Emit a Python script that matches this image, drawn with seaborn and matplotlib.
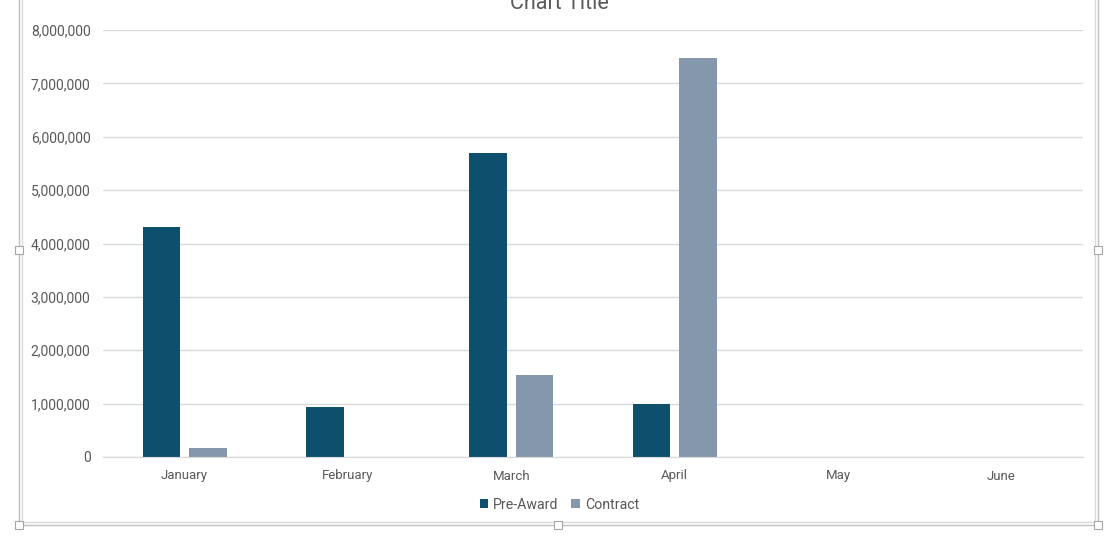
import numpy as np
import pandas as pd
import matplotlib
matplotlib.use("Agg")
import matplotlib.pyplot as plt
from matplotlib.patches import Rectangle
from matplotlib.ticker import FuncFormatter
import seaborn as sns

months = ["January", "February", "March", "April", "May", "June"]
pre_award = [4310000, 940000, 5700000, 990000, np.nan, np.nan]
contract = [170000, np.nan, 1540000, 7480000, np.nan, np.nan]
series_names = ["Pre-Award", "Contract"]
series_colors = ["#0E4F6E", "#8497AB"]
title = "Chart Title"

df = pd.DataFrame({
    "month": months * 2,
    "series": [series_names[0]] * 6 + [series_names[1]] * 6,
    "value": pre_award + contract,
})

sns.set_style("white")
plt.rcParams["font.family"] = ["Roboto", "DejaVu Sans"]
text_color = "#595959"

fig = plt.figure(figsize=(11.19, 5.42), dpi=100)
ax = fig.add_axes([103 / 1119, 1 - 457 / 542, 980 / 1119, 427 / 542])

sns.barplot(data=df, x="month", y="value", hue="series", order=months,
            hue_order=series_names, palette=series_colors, width=0.57,
            gap=0.19, ax=ax, errorbar=None, saturation=1, linewidth=0)

ax.set_ylim(0, 8000000)
ax.set_xlim(-0.5, 5.5)
ax.set_yticks(range(0, 8000001, 1000000))
ax.yaxis.set_major_formatter(FuncFormatter(lambda v, p: f"{int(v):,}"))
ax.grid(axis="y", color="#D9D9D9", linewidth=1)
ax.set_axisbelow(True)
for s in ["top", "right", "left"]:
    ax.spines[s].set_visible(False)
ax.spines["bottom"].set_color("#D9D9D9")
ax.tick_params(axis="both", length=0, labelsize=9.5, colors=text_color)
ax.tick_params(axis="y", pad=9, labelsize=10)
ax.tick_params(axis="x", pad=9)
ax.set_xlabel("")
ax.set_ylabel("")

sns.move_legend(ax, "upper center", bbox_to_anchor=(0.5, 1 - 485 / 542),
                bbox_transform=fig.transFigure, ncol=2,
                frameon=False, title=None, fontsize=10.2, handlelength=0.6,
                handleheight=0.6, handletextpad=0.35, columnspacing=0.9)
for t in ax.get_legend().get_texts():
    t.set_color(text_color)

fig.text(0.5, 1 - 9 / 542, title, ha="center", va="baseline",
         fontsize=15.5, color=text_color)

# chart-area selection frame
W, H = 1119, 542
for off, col in [(0, "#BFBFBF"), (3, "#D9D9D9")]:
    fig.patches.append(Rectangle(((19 + off) / W, 1 - (525 - off) / H),
                                 (1079 - 2 * off) / W, (535 - off) / H,
                                 transform=fig.transFigure, fill=False,
                                 edgecolor=col, linewidth=1))
for hx, hy in [(19, 250), (1098, 250), (19, 525), (558, 525), (1098, 525)]:
    fig.patches.append(Rectangle(((hx - 4) / W, 1 - (hy + 4) / H), 8 / W, 8 / H,
                                 transform=fig.transFigure, facecolor="white",
                                 edgecolor="#A6A6A6", linewidth=0.8))

fig.savefig("out.png", dpi=100)
